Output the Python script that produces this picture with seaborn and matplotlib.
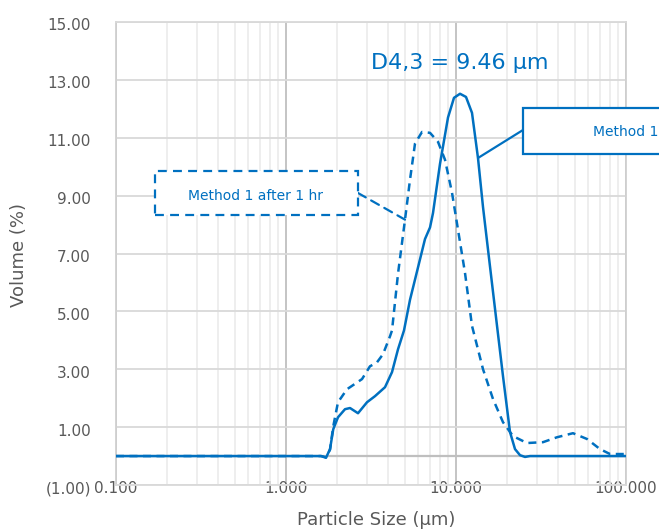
import matplotlib
matplotlib.use("Agg")
import matplotlib.pyplot as plt
import matplotlib.transforms as mtransforms
import seaborn as sns
import pandas as pd
from matplotlib.patches import Rectangle

# ---------------- data ----------------
size_m1 = [0.1, 0.5, 1.0, 1.607, 1.719, 1.815, 1.897, 2.022, 2.224, 2.380, 2.652, 2.996,
           3.338, 3.823, 4.203, 4.559, 4.944, 5.363, 5.740, 6.571, 7.033, 7.324, 8.053,
           8.974, 9.73, 10.56, 11.45, 12.42, 13.47, 14.42, 15.85, 17.43, 18.90, 20.78,
           22.24, 23.80, 25.47, 27.25, 50.0, 100.0]
vol_m1 = [0.0, 0.0, 0.0, 0.0, -0.06, 0.24, 0.93, 1.34, 1.62, 1.66, 1.48, 1.86,
          2.07, 2.38, 2.90, 3.69, 4.34, 5.40, 6.10, 7.50, 7.90, 8.40, 10.10,
          11.70, 12.38, 12.52, 12.41, 11.86, 10.30, 8.60, 6.55, 4.50, 2.76, 0.83,
          0.24, 0.03, -0.03, 0.0, 0.0, 0.0]

size_m1h = [0.1, 0.5, 1.0, 1.607, 1.719, 1.815, 1.897, 2.022, 2.285, 2.800, 3.116, 3.430,
            3.721, 4.091, 4.203, 4.559, 5.012, 5.363, 5.740, 6.310, 7.033, 7.835,
            8.615, 9.474, 10.27, 11.29, 12.42, 14.42, 16.51, 18.90, 21.64, 26.16,
            32.49, 39.28, 48.77, 58.96, 70.33, 80.53, 100.0]
vol_m1h = [0.0, 0.0, 0.0, 0.0, -0.04, 0.22, 1.03, 1.86, 2.31, 2.66, 3.10, 3.24,
           3.52, 4.14, 4.34, 6.30, 8.17, 9.55, 10.80, 11.20, 11.17, 10.86,
           10.24, 9.10, 7.83, 6.34, 4.50, 3.00, 1.97, 1.17, 0.69, 0.45,
           0.48, 0.65, 0.79, 0.59, 0.24, 0.07, 0.07]

x_ticks = [0.1, 1, 10, 100]
x_tick_labels = ["0.100", "1.000", "10.000", "100.000"]
y_ticks = [-1, 1, 3, 5, 7, 9, 11, 13, 15]
y_tick_labels = ["(1.00)", "1.00", "3.00", "5.00", "7.00", "9.00", "11.00", "13.00", "15.00"]

label_m1 = "Method 1"
label_m1h = "Method 1 after 1 hr"
d43_text = "D4,3 = 9.46 µm"

BLUE = "#0070C0"
GRAY = "#595959"
W, H = 659, 532

sns.set_style("white")
plt.rcParams["font.family"] = ["DejaVu Sans"]

fig = plt.figure(figsize=(W / 100, H / 100), dpi=100)
ax = fig.add_axes([116 / W, 1 - 485 / H, (626 - 116) / W, (485 - 22) / H])

def fx(px, py):
    return (px / W, 1 - py / H)

df1 = pd.DataFrame({"size": size_m1, "vol": vol_m1})
df2 = pd.DataFrame({"size": size_m1h, "vol": vol_m1h})

ax.axhline(0, color="#BFBFBF", lw=1.6, zorder=1)
sns.lineplot(data=df2, x="size", y="vol", ax=ax, color=BLUE, lw=1.8, zorder=3)
sns.lineplot(data=df1, x="size", y="vol", ax=ax, color=BLUE, lw=1.8, zorder=4)
ax.lines[1].set_dashes([3.2, 2.2])
for ln in ax.lines[1:]:
    ln.set_solid_capstyle("round")
    ln.set_solid_joinstyle("round")

ax.set_xscale("log")
ax.set_xlim(0.1, 100)
ax.set_ylim(-1, 15)
ax.set_xticks(x_ticks)
ax.set_xticklabels(x_tick_labels)
ax.set_yticks(y_ticks)
ax.set_yticklabels(y_tick_labels)
ax.xaxis.set_minor_locator(matplotlib.ticker.LogLocator(base=10, subs=range(2, 10)))
ax.xaxis.set_minor_formatter(matplotlib.ticker.NullFormatter())

ax.grid(axis="y", which="major", color="#D9D9D9", lw=1.3, zorder=0)
ax.grid(axis="x", which="major", color="#BFBFBF", lw=1.3, zorder=0)
ax.grid(axis="x", which="minor", color="#EBEBEB", lw=1.2, zorder=0)
ax.set_axisbelow(True)
for side in ["top", "bottom"]:
    ax.spines[side].set_color("#D9D9D9")
    ax.spines[side].set_linewidth(1.3)
for side in ["left", "right"]:
    ax.spines[side].set_color("#D0D0D0")
    ax.spines[side].set_linewidth(1.3)

ax.tick_params(axis="x", which="both", length=0, pad=-3, labelsize=11, labelcolor=GRAY)
ax.tick_params(axis="y", which="both", length=0, pad=18, labelsize=11, labelcolor=GRAY)
offset = mtransforms.ScaledTranslation(0, -2.5 / 100, fig.dpi_scale_trans)
for lbl in ax.get_yticklabels():
    lbl.set_transform(lbl.get_transform() + offset)

ax.set_xlabel("Particle Size (µm)", fontsize=13, color=GRAY)
ax.set_ylabel("Volume (%)", fontsize=13, color=GRAY)
ax.xaxis.set_label_coords((376 - 116) / (626 - 116), -(511 - 485) / (485 - 22))
ax.yaxis.set_label_coords(-(116 - 28) / (626 - 116), (485 - 255) / (485 - 22))

# D4,3 annotation
fig.text(*fx(460, 63), d43_text, fontsize=16, color=BLUE, ha="center", va="center")

# dashed callout: Method 1 after 1 hr
box2 = Rectangle(fx(155, 215), (358 - 155) / W, (215 - 171) / H, transform=fig.transFigure,
                 fill=True, facecolor="white", edgecolor=BLUE, lw=1.6, linestyle=(0, (4, 2.8)),
                 zorder=5)
fig.add_artist(box2)
fig.text(*fx(256, 196), label_m1h, fontsize=10, color=BLUE, ha="center", va="center", zorder=6)
i2 = size_m1h.index(5.012)
ax.annotate("", xy=(size_m1h[i2], vol_m1h[i2]), xycoords="data",
            xytext=fx(358, 193), textcoords="figure fraction",
            arrowprops=dict(arrowstyle="-", color=BLUE, lw=1.6, linestyle=(0, (4, 2.8)),
                            shrinkA=0, shrinkB=0))

# solid callout: Method 1
box1 = Rectangle(fx(523, 154), (800 - 523) / W, (154 - 108) / H, transform=fig.transFigure,
                 fill=True, facecolor="white", edgecolor=BLUE, lw=1.6, zorder=5)
fig.add_artist(box1)
fig.text(*fx(593, 132), label_m1, fontsize=10, color=BLUE, ha="left", va="center", zorder=6)
i1 = size_m1.index(13.47)
ax.annotate("", xy=(size_m1[i1], vol_m1[i1]), xycoords="data",
            xytext=fx(523, 130), textcoords="figure fraction",
            arrowprops=dict(arrowstyle="-", color=BLUE, lw=1.6, shrinkA=0, shrinkB=0))

fig.savefig("out.png", dpi=100)
